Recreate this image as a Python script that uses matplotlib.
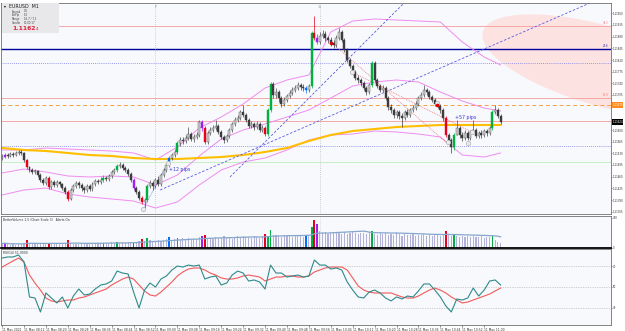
import matplotlib
matplotlib.use("Agg")
import matplotlib.pyplot as plt
import matplotlib.transforms as mtransforms
from matplotlib.patches import Ellipse, Rectangle
import numpy as np
import pandas as pd

plt.rcParams['font.family'] = ['DejaVu Sans']

# EURUSD M1 candles: open of the first bar, then close / high / low of every bar
first_open = 1.11516
close = [1.11519, 1.11525, 1.11522, 1.11528, 1.11525, 1.11531, 1.11534, 1.11531, 1.11510, 1.11489,
         1.11480, 1.11474, 1.11477, 1.11465, 1.11450, 1.11441, 1.11456, 1.11429, 1.11444, 1.11435,
         1.11444, 1.11438, 1.11426, 1.11414, 1.11393, 1.11420, 1.11432, 1.11441, 1.11435, 1.11426,
         1.11420, 1.11432, 1.11423, 1.11438, 1.11447, 1.11444, 1.11450, 1.11456, 1.11453, 1.11462,
         1.11474, 1.11480, 1.11492, 1.11495, 1.11486, 1.11480, 1.11468, 1.11450, 1.11426, 1.11414,
         1.11396, 1.11384, 1.11390, 1.11432, 1.11441, 1.11432, 1.11450, 1.11438, 1.11465, 1.11480,
         1.11495, 1.11516, 1.11525, 1.11534, 1.11561, 1.11570, 1.11567, 1.11576, 1.11588, 1.11573,
         1.11579, 1.11585, 1.11624, 1.11606, 1.11564, 1.11591, 1.11600, 1.11606, 1.11612, 1.11594,
         1.11579, 1.11570, 1.11582, 1.11600, 1.11618, 1.11630, 1.11636, 1.11654, 1.11645, 1.11630,
         1.11612, 1.11618, 1.11609, 1.11618, 1.11600, 1.11606, 1.11588, 1.11660, 1.11738, 1.11705,
         1.11714, 1.11696, 1.11678, 1.11690, 1.11702, 1.11711, 1.11720, 1.11726, 1.11735, 1.11729,
         1.11726, 1.11720, 1.11732, 1.11891, 1.11876, 1.11864, 1.11882, 1.11888, 1.11876, 1.11870,
         1.11861, 1.11855, 1.11876, 1.11894, 1.11870, 1.11840, 1.11810, 1.11792, 1.11774, 1.11756,
         1.11750, 1.11741, 1.11726, 1.11714, 1.11735, 1.11801, 1.11750, 1.11732, 1.11720, 1.11726,
         1.11696, 1.11669, 1.11660, 1.11645, 1.11654, 1.11642, 1.11636, 1.11654, 1.11645, 1.11660,
         1.11666, 1.11678, 1.11696, 1.11705, 1.11720, 1.11714, 1.11699, 1.11690, 1.11678, 1.11672,
         1.11660, 1.11636, 1.11585, 1.11570, 1.11549, 1.11585, 1.11606, 1.11585, 1.11576, 1.11591,
         1.11576, 1.11594, 1.11600, 1.11582, 1.11591, 1.11585, 1.11597, 1.11591, 1.11606, 1.11654,
         1.11660, 1.11642, 1.11624]
high = [1.11528, 1.11531, 1.11531, 1.11534, 1.11534, 1.11537, 1.11540, 1.11540, 1.11534, 1.11513,
        1.11492, 1.11486, 1.11483, 1.11480, 1.11471, 1.11456, 1.11462, 1.11462, 1.11450, 1.11450,
        1.11450, 1.11447, 1.11441, 1.11432, 1.11420, 1.11426, 1.11438, 1.11447, 1.11447, 1.11441,
        1.11432, 1.11438, 1.11438, 1.11444, 1.11453, 1.11453, 1.11459, 1.11465, 1.11462, 1.11468,
        1.11480, 1.11486, 1.11498, 1.11504, 1.11501, 1.11492, 1.11486, 1.11474, 1.11456, 1.11432,
        1.11420, 1.11402, 1.11396, 1.11438, 1.11450, 1.11447, 1.11456, 1.11462, 1.11471, 1.11486,
        1.11501, 1.11522, 1.11531, 1.11543, 1.11567, 1.11579, 1.11579, 1.11585, 1.11609, 1.11594,
        1.11588, 1.11594, 1.11630, 1.11630, 1.11612, 1.11597, 1.11609, 1.11615, 1.11630, 1.11618,
        1.11600, 1.11585, 1.11588, 1.11606, 1.11624, 1.11639, 1.11645, 1.11660, 1.11675, 1.11651,
        1.11636, 1.11627, 1.11624, 1.11627, 1.11624, 1.11615, 1.11612, 1.11666, 1.11744, 1.11744,
        1.11726, 1.11720, 1.11702, 1.11699, 1.11708, 1.11720, 1.11729, 1.11735, 1.11744, 1.11741,
        1.11738, 1.11732, 1.11738, 1.11897, 1.11942, 1.11888, 1.11894, 1.11900, 1.11897, 1.11882,
        1.11879, 1.11870, 1.11885, 1.11906, 1.11900, 1.11876, 1.11846, 1.11816, 1.11798, 1.11780,
        1.11765, 1.11756, 1.11747, 1.11732, 1.11741, 1.11807, 1.11807, 1.11756, 1.11738, 1.11735,
        1.11732, 1.11702, 1.11678, 1.11666, 1.11660, 1.11660, 1.11651, 1.11660, 1.11663, 1.11666,
        1.11675, 1.11687, 1.11702, 1.11714, 1.11735, 1.11726, 1.11720, 1.11705, 1.11696, 1.11684,
        1.11678, 1.11666, 1.11642, 1.11591, 1.11576, 1.11591, 1.11630, 1.11612, 1.11594, 1.11600,
        1.11597, 1.11600, 1.11630, 1.11606, 1.11597, 1.11600, 1.11603, 1.11603, 1.11612, 1.11660,
        1.11675, 1.11666, 1.11648]
low = [1.11510, 1.11516, 1.11516, 1.11519, 1.11519, 1.11522, 1.11525, 1.11525, 1.11504, 1.11483,
       1.11474, 1.11468, 1.11468, 1.11459, 1.11444, 1.11435, 1.11435, 1.11423, 1.11423, 1.11429,
       1.11429, 1.11432, 1.11420, 1.11408, 1.11387, 1.11390, 1.11414, 1.11426, 1.11426, 1.11417,
       1.11411, 1.11414, 1.11417, 1.11417, 1.11432, 1.11438, 1.11438, 1.11444, 1.11447, 1.11447,
       1.11456, 1.11468, 1.11474, 1.11486, 1.11480, 1.11474, 1.11462, 1.11444, 1.11420, 1.11408,
       1.11390, 1.11378, 1.11366, 1.11384, 1.11426, 1.11420, 1.11426, 1.11432, 1.11432, 1.11459,
       1.11474, 1.11489, 1.11510, 1.11519, 1.11528, 1.11552, 1.11558, 1.11561, 1.11570, 1.11567,
       1.11564, 1.11573, 1.11579, 1.11597, 1.11558, 1.11558, 1.11585, 1.11594, 1.11600, 1.11588,
       1.11573, 1.11561, 1.11564, 1.11576, 1.11594, 1.11612, 1.11624, 1.11630, 1.11639, 1.11624,
       1.11606, 1.11606, 1.11600, 1.11603, 1.11594, 1.11594, 1.11582, 1.11582, 1.11654, 1.11696,
       1.11696, 1.11684, 1.11669, 1.11672, 1.11684, 1.11696, 1.11705, 1.11714, 1.11720, 1.11720,
       1.11717, 1.11711, 1.11714, 1.11726, 1.11870, 1.11858, 1.11858, 1.11876, 1.11867, 1.11861,
       1.11852, 1.11846, 1.11849, 1.11870, 1.11864, 1.11834, 1.11804, 1.11786, 1.11765, 1.11750,
       1.11741, 1.11732, 1.11720, 1.11705, 1.11708, 1.11729, 1.11744, 1.11726, 1.11714, 1.11714,
       1.11690, 1.11660, 1.11651, 1.11636, 1.11636, 1.11633, 1.11609, 1.11630, 1.11639, 1.11639,
       1.11654, 1.11660, 1.11672, 1.11690, 1.11699, 1.11705, 1.11693, 1.11684, 1.11672, 1.11666,
       1.11651, 1.11627, 1.11579, 1.11561, 1.11531, 1.11540, 1.11597, 1.11576, 1.11567, 1.11570,
       1.11570, 1.11570, 1.11588, 1.11576, 1.11576, 1.11576, 1.11579, 1.11582, 1.11585, 1.11600,
       1.11648, 1.11636, 1.11618]
# tick volume per bar
volume = [40, 45, 35, 30, 35, 30, 40, 35, 45, 80,
          45, 40, 35, 40, 45, 40, 35, 40, 45, 35,
          40, 35, 45, 40, 80, 45, 35, 40, 35, 45,
          40, 35, 45, 40, 35, 50, 45, 45, 50, 45,
          55, 50, 60, 45, 55, 50, 60, 55, 50, 60,
          70, 90, 65, 100, 75, 60, 70, 80, 65, 75,
          85, 110, 80, 90, 100, 75, 95, 85, 100, 80,
          90, 85, 110, 120, 130, 95, 100, 85, 110, 95,
          100, 115, 95, 105, 90, 110, 120, 100, 115, 105,
          110, 95, 120, 105, 100, 115, 140, 120, 180, 130,
          125, 120, 110, 130, 115, 120, 105, 125, 115, 120,
          110, 130, 120, 210, 280, 240, 170, 150, 160, 140,
          150, 160, 145, 150, 135, 155, 140, 150, 160, 145,
          135, 150, 145, 140, 155, 170, 140, 130, 150, 135,
          145, 130, 140, 125, 160, 135, 120, 140, 130, 125,
          135, 120, 130, 125, 140, 115, 125, 120, 135, 130,
          120, 125, 170, 130, 120, 140, 115, 105, 120, 110,
          115, 105, 120, 110, 105, 115, 100, 110, 105, 120,
          80, 60, 45]
# bars painted by the volume indicator
paint = {1: 'purple', 9: 'red', 17: 'red', 24: 'red', 37: 'green', 42: 'green',
         48: 'purple', 51: 'red', 53: 'green', 61: 'blue', 64: 'green', 73: 'purple',
         74: 'red', 96: 'red', 97: 'green', 98: 'green', 111: 'blue', 113: 'green',
         114: 'red', 115: 'purple', 135: 'green', 162: 'red', 165: 'green', 179: 'green'}

# RSI(14) and its signal line, one reading every 2 bars
rsi = [77.6, 78.6, 78.6, 80.5, 73.8, 40.5, 39.5, 26.2, 44.3, 39.5,
       34.8, 40.5, 30.0, 41.4, 48.1, 42.4, 43.3, 48.1, 51.9, 52.9,
       55.7, 65.2, 63.3, 62.4, 45.2, 30.0, 47.1, 53.8, 50.0, 57.6,
       60.5, 66.2, 70.0, 69.0, 70.9, 70.0, 70.9, 57.6, 59.5, 60.5,
       51.9, 53.8, 61.4, 65.2, 63.3, 55.7, 56.7, 54.8, 48.1, 70.9,
       63.3, 63.3, 59.5, 60.5, 61.4, 59.5, 60.5, 75.7, 70.9, 70.9,
       67.1, 68.1, 66.2, 54.8, 47.1, 40.5, 39.5, 45.2, 47.1, 44.3,
       39.5, 36.7, 40.5, 38.6, 41.4, 40.5, 46.2, 52.9, 52.9, 47.1,
       40.5, 31.9, 26.2, 38.6, 37.6, 39.5, 49.0, 41.4, 47.1, 55.7,
       56.7, 51.9]
rsi_signal = [69.0, 71.9, 74.8, 77.6, 73.8, 61.4, 53.8, 47.1, 39.5, 36.7,
              35.7, 36.7, 37.6, 37.6, 39.5, 40.5, 42.4, 44.3, 46.2, 48.1,
              51.9, 54.8, 57.6, 59.5, 57.6, 51.9, 46.2, 42.4, 41.4, 45.2,
              50.0, 54.8, 60.5, 64.3, 67.1, 68.1, 68.1, 66.2, 63.3, 61.4,
              58.6, 57.6, 57.6, 58.6, 60.5, 61.4, 60.5, 59.5, 55.7, 57.6,
              59.5, 59.5, 60.5, 60.5, 59.5, 59.5, 60.5, 64.3, 66.2, 68.1,
              69.0, 69.0, 69.0, 66.2, 58.6, 51.0, 47.1, 45.2, 44.3, 44.3,
              44.3, 44.3, 42.4, 40.5, 39.5, 39.5, 41.4, 44.3, 47.1, 49.0,
              47.1, 44.3, 40.5, 37.6, 34.8, 35.7, 37.6, 39.5, 41.4, 43.3,
              46.2, 49.0]

# bollinger bands and slow MA, read every 8 bars
band_t = [0, 8, 16, 24, 32, 40, 48, 56, 64, 72, 80, 88, 96, 104, 112, 120,
          128, 136, 144, 152, 160, 168, 176, 182]
bb_upper = [1.11540, 1.11540, 1.11546, 1.11543, 1.11540, 1.11537, 1.11531, 1.11510,
            1.11549, 1.11606, 1.11639, 1.11678, 1.11726, 1.11750, 1.11765, 1.11894,
            1.11927, 1.11933, 1.11930, 1.11927, 1.11924, 1.11864, 1.11819, 1.11795]
bb_mid = [1.11471, 1.11483, 1.11474, 1.11462, 1.11459, 1.11462, 1.11459, 1.11435,
          1.11465, 1.11522, 1.11573, 1.11600, 1.11618, 1.11639, 1.11660, 1.11696,
          1.11732, 1.11744, 1.11750, 1.11744, 1.11714, 1.11687, 1.11666, 1.11657]
bb_lower = [1.11405, 1.11420, 1.11426, 1.11408, 1.11399, 1.11393, 1.11387, 1.11366,
            1.11384, 1.11435, 1.11480, 1.11504, 1.11516, 1.11540, 1.11570, 1.11585,
            1.11588, 1.11597, 1.11594, 1.11588, 1.11579, 1.11525, 1.11519, 1.11531]
ma_slow = [1.11546, 1.11540, 1.11537, 1.11531, 1.11525, 1.11522, 1.11516, 1.11513,
           1.11513, 1.11516, 1.11519, 1.11525, 1.11534, 1.11546, 1.11567, 1.11585,
           1.11597, 1.11603, 1.11609, 1.11612, 1.11615, 1.11615, 1.11615, 1.11615]

# horizontal objects on the chart
lvl_pink = [1.11912, 1.11696, 1.11627]
lvl_blue = 1.11843
lvl_dotted = [1.11801, 1.11552]
lvl_ask = 1.11675
lvl_green = 1.11504
bid = 1.11624

# trend lines (bar, price) -> (bar, price)
trend_blue = [((57.7, 1.11420), (214.6, 1.11981)),
              ((83.2, 1.11459), (147.1, 1.11984))]
trend_red = [((120.0, 1.11864), (162.4, 1.11561)),
             ((127.7, 1.11774), (171.5, 1.11594))]
pips12 = ((51.5, 1.11363), (60.6, 1.11501))
ring_t = [51.5, 60.6, 127.7, 158.8, 162.8, 170.1, 171.5]
ring_p = [1.11363, 1.11501, 1.11774, 1.11681, 1.11564, 1.11561, 1.11594]
dot_t = [120.0, 158.8]
dot_p = [1.11861, 1.11675]
vlines_t = [56, 116]

price_ticks = [1.11950, 1.11915, 1.11880, 1.11845, 1.11810, 1.11775, 1.11740, 1.11705,
               1.11600, 1.11565, 1.11530, 1.11495, 1.11460, 1.11425, 1.11390, 1.11355]
time_ticks = list(range(0, 177, 8))
time_labels = ["11 May 2021", "11 May 08:12", "11 May 08:20", "11 May 08:28", "11 May 08:36",
               "11 May 08:44", "11 May 08:52", "11 May 09:00", "11 May 09:08", "11 May 09:16",
               "11 May 09:24", "11 May 09:32", "11 May 09:40", "11 May 09:48", "11 May 09:56",
               "11 May 10:04", "11 May 10:12", "11 May 10:20", "11 May 10:28", "11 May 10:36",
               "11 May 10:44", "11 May 10:52", "11 May 11:00"]

COL = {'red': '#e8001c', 'green': '#00b040', 'blue': '#0070ff', 'purple': '#a020f0'}
BG = '#f7f9fc'
W, H = 625, 331
FS = 1.9


def box(x0, y0, x1, y1):
    return [x0 / W, 1 - y1 / H, (x1 - x0) / W, (y1 - y0) / H]


fig = plt.figure(figsize=(W / 100, H / 100), dpi=100)
ax = fig.add_axes(box(1, 3, 611, 214))
axv = fig.add_axes(box(1, 216, 611, 247.5), sharex=ax)
axr = fig.add_axes(box(1, 249, 611, 325), sharex=ax)

for a in (ax, axv, axr):
    a.set_facecolor(BG)
    for s in a.spines.values():
        s.set_color('#707070')
        s.set_linewidth(0.6)
    a.yaxis.tick_right()
    a.tick_params(axis='y', labelsize=FS, length=1.0, width=0.4, pad=0.4, colors='#303030')
    a.tick_params(axis='x', bottom=False, labelbottom=False)
axv.spines['bottom'].set_color('black')
axv.spines['bottom'].set_linewidth(1.3)

n = len(close)
t = np.arange(n)
c = np.array(close)
o = np.concatenate([[first_open], c[:-1]])
h = np.maximum(np.array(high), np.maximum(o, c))
lo = np.minimum(np.array(low), np.minimum(o, c))

# --- main panel
ax.set_xlim(-0.4, 222.3)
ax.set_ylim(1.11348, 1.11981)

# shaded zone in the top-right corner
ell = Ellipse((602, 148), 250, 80, angle=-16, facecolor='#fde2e2', edgecolor='none',
              transform=mtransforms.Affine2D().scale(1 / 610, 1 / 211) + ax.transAxes, zorder=0)
ax.add_patch(ell)

for p in lvl_pink:
    ax.axhline(p, color='#f5a8a8', lw=0.7, zorder=1)
ax.axhline(lvl_blue, color='#00009c', lw=1.0, zorder=1)
for p in lvl_dotted:
    ax.axhline(p, color='#7a7ae6', lw=0.6, ls=(0, (1, 1.5)), zorder=1)
ax.axhline(lvl_ask, color='#f5a040', lw=0.7, ls=(0, (4, 3)), zorder=1)
ax.axhline(lvl_green, color='#c4efc4', lw=0.7, zorder=1)
for v in vlines_t:
    ax.axvline(v, color='#a8a8a8', lw=0.5, ls=(0, (1, 2)), zorder=1)
    axv.axvline(v, color='#c0c0c0', lw=0.5, ls=(0, (1, 2)), zorder=1)

ax.plot(band_t, bb_upper, color='#f08cf0', lw=0.7, zorder=2)
ax.plot(band_t, bb_mid, color='#f08cf0', lw=0.7, zorder=2)
ax.plot(band_t, bb_lower, color='#f08cf0', lw=0.7, zorder=2)
ax.plot(band_t, ma_slow, color='#ffbf00', lw=1.5, zorder=2)

for (t0, p0), (t1, p1) in trend_blue:
    ax.plot([t0, t1], [p0, p1], color='#5a5ae0', lw=0.6, ls=(0, (3, 2)), zorder=2)
for (t0, p0), (t1, p1) in trend_red:
    ax.plot([t0, t1], [p0, p1], color='#f07272', lw=0.6, ls=(0, (1, 1.2)), zorder=2)
ax.plot([pips12[0][0], pips12[1][0]], [pips12[0][1], pips12[1][1]], color='#5a5ae0',
        lw=0.5, ls=(0, (1, 1.2)), zorder=2)

# candles
fcol, ecol = [], []
for i in range(n):
    if i in paint:
        fcol.append(COL[paint[i]])
        ecol.append(COL[paint[i]])
    elif c[i] >= o[i]:
        fcol.append('#d4d4d4')
        ecol.append('#4a4a4a')
    else:
        fcol.append('#3c3c3c')
        ecol.append('#3c3c3c')
ax.vlines(t, lo, h, colors=ecol, lw=0.5, zorder=3)
body = np.maximum(np.abs(c - o), 0.000025)
ax.bar(t, body, bottom=np.minimum(o, c), width=0.72, color=fcol, edgecolor=ecol,
       linewidth=0.3, zorder=4)

ax.scatter(ring_t, ring_p, s=10, facecolors='#ececec', edgecolors='#b4b4b4', linewidths=0.5, zorder=5)
ax.scatter(dot_t, dot_p, s=2.5, color='#e00000', zorder=6)
ax.text(60.9, 1.11482, '+12 pips', color='#3838d0', fontsize=3.4, va='center', zorder=6)
ax.text(165.3, 1.11639, '+57 pips', color='#3838d0', fontsize=3.4, va='center', zorder=6)

ax.text(56, 1.11968, 'P', color='#909090', fontsize=2.4, ha='center', va='center')
ax.text(116, 1.11968, '1x', color='#909090', fontsize=2.4, ha='center', va='center')
ax.text(221.5, lvl_pink[0] + 0.00003, '38.2', color='#f08080', fontsize=FS, ha='right', va='bottom')
ax.text(221.5, lvl_blue + 0.00003, '23.6', color='#2020a0', fontsize=FS, ha='right', va='bottom')
ax.text(221.5, lvl_pink[1] + 0.00003, '61.8', color='#f08080', fontsize=FS, ha='right', va='bottom')

ax.set_yticks(price_ticks)
ax.set_yticklabels([f'{p:.5f}' for p in price_ticks])
ytr = ax.get_yaxis_transform()
ax.text(1.002, lvl_ask, f'{lvl_ask:.5f}', transform=ytr, fontsize=FS, color='white', va='center',
        ha='left', clip_on=False, bbox=dict(boxstyle='square,pad=0.2', fc='#ff8c1a', ec='none'))
ax.text(1.002, bid, f'{bid:.5f}', transform=ytr, fontsize=FS, color='white', va='center',
        ha='left', clip_on=False, bbox=dict(boxstyle='square,pad=0.2', fc='black', ec='none'))

# --- volume panel
vcol = [COL[paint[i]] if i in paint else '#b2b2d8' for i in range(n)]
vwid = [0.65 if i in paint else 0.42 for i in range(n)]
axv.bar(t, volume, width=vwid, color=vcol, zorder=2)
vavg = pd.Series(volume, dtype=float).rolling(20, min_periods=1).mean()
axv.plot(t, vavg, color='#86a6cc', lw=0.9, zorder=3)
axv.set_ylim(0, 315)
axv.set_yticks([0, 300])
axv.set_yticklabels(['0', '300'])
axv.text(0.004, 0.93, 'BetterVolume 1.5 (Chart Scale 3)   Alerts On', transform=axv.transAxes,
         fontsize=2.2, color='#303030', va='top')

# --- rsi panel
rt = np.arange(0, n, 2)[:len(rsi)]
for lv in (70, 50, 30):
    axr.axhline(lv, color='#a8a8a8', lw=0.5, ls=(0, (1, 1.5)), zorder=1)
axr.plot(rt, rsi_signal, color='#f25a5a', lw=0.8, zorder=2)
axr.plot(rt, rsi, color='#2f8a8a', lw=0.8, zorder=3)
axr.set_ylim(13.8, 86.2)
axr.set_yticks([70, 50, 30])
axr.text(0.004, 0.97, f'RSI(14) {rsi[-1]:.4f}', transform=axr.transAxes, fontsize=2.2,
         color='#303030', va='top')
axr.set_xticks(time_ticks)
axr.set_xticklabels(time_labels, ha='left')
axr.tick_params(axis='x', bottom=True, labelbottom=True, labelsize=2.2, length=1.5,
                width=0.4, pad=0.6, colors='#303030')

# --- info box top-left
fig.add_artist(Rectangle((2 / W, 1 - 33 / H), 57 / W, 30 / H, transform=fig.transFigure,
                         facecolor='#e8e8ea', edgecolor='none', zorder=10))
fig.text(4 / W, 1 - 6.5 / H, '▾', fontsize=2.8, va='center', zorder=11)
fig.text(9 / W, 1 - 6.5 / H, 'EURUSD  M1', fontsize=3.4, va='center', color='#202020', zorder=11)
info_rows = [('Spread', '0.5'), ('LotPip', '1.0'), ('Range', '16.7 / 7.1'), ('Candle', '00:00:17')]
for k, (a, b) in enumerate(info_rows):
    y = 11.5 + 3.8 * k
    fig.text(12 / W, 1 - y / H, a, fontsize=1.9, va='center', color='#404040', zorder=11)
    fig.text(24 / W, 1 - y / H, b, fontsize=1.9, va='center', color='#404040', zorder=11)
fig.text(12.5 / W, 1 - 28 / H, '1.1162', fontsize=4.3, weight='bold', va='center', color='#e0203c', zorder=11)
fig.text(35.5 / W, 1 - 28.5 / H, '4', fontsize=3.0, va='center', color='#e0203c', zorder=11)

fig.savefig('out.png', dpi=100, facecolor='white')
